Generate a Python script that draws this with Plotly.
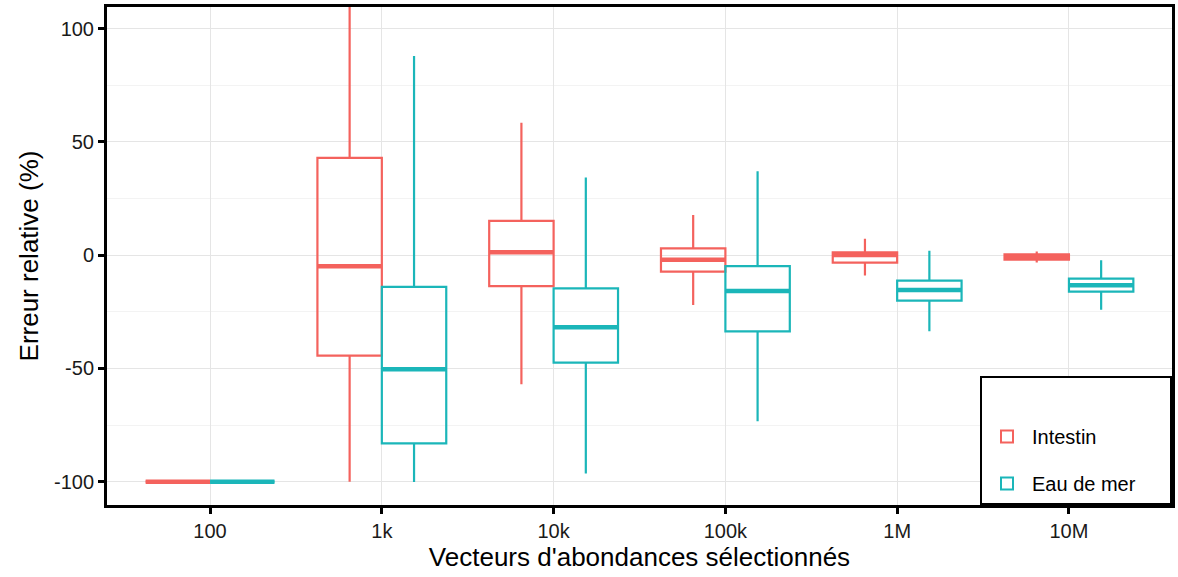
import plotly.graph_objects as go

categories = ["100", "1k", "10k", "100k", "1M", "10M"]

intestin_low = [-100, -100, -57.0, -22.0, -9.0, -3.3]
intestin_q1 = [-100, -44.4, -13.7, -7.3, -3.3, -2.0]
intestin_med = [-100, -4.9, 1.3, -2.1, 0.0, -0.8]
intestin_q3 = [-100, 42.9, 15.1, 3.0, 1.2, 0.3]
intestin_high = [-100, 115.0, 58.4, 17.7, 7.2, 1.6]

mer_low = [-100, -100.1, -96.4, -73.3, -33.6, -24.1]
mer_q1 = [-100, -83.1, -47.5, -33.7, -20.1, -16.1]
mer_med = [-100, -50.4, -31.9, -15.9, -15.4, -13.3]
mer_q3 = [-100, -14.0, -14.7, -4.9, -11.3, -10.4]
mer_high = [-100, 87.9, 34.3, 37.0, 1.9, -2.3]

groups = [
    ("Intestin", "#F4625D", -1, intestin_low, intestin_q1, intestin_med, intestin_q3, intestin_high),
    ("Eau de mer", "#1BB6B9", 1, mer_low, mer_q1, mer_med, mer_q3, mer_high),
]

BOX_W = 0.375
FONT = "Liberation Sans, Arial, sans-serif"

fig = go.Figure()
for name, color, side, lo, q1, med, q3, hi in groups:
    xs = [i + side * BOX_W / 2 for i in range(len(categories))]
    fig.add_trace(go.Box(
        name=name, x=xs, lowerfence=lo, q1=q1, median=med, q3=q3, upperfence=hi,
        width=BOX_W, whiskerwidth=0, boxpoints=False, legendgroup=name,
        line=dict(color=color, width=2.2), fillcolor="rgba(255,255,255,0)",
        hoverinfo="skip",
    ))
    mx, my = [], []
    for x, m in zip(xs, med):
        mx += [x - BOX_W / 2, x + BOX_W / 2, None]
        my += [m, m, None]
    fig.add_trace(go.Scatter(x=mx, y=my, mode="lines", line=dict(color=color, width=4.5),
                             showlegend=False, hoverinfo="skip", legendgroup=name))

fig.update_layout(
    width=1178, height=577,
    margin=dict(l=107, r=3, t=7, b=72),
    paper_bgcolor="white", plot_bgcolor="white",
    font=dict(family=FONT, size=20, color="black"),
    boxmode="overlay",
    showlegend=True,
    legend=dict(
        x=1, y=0, xanchor="right", yanchor="bottom",
        bgcolor="white", bordercolor="black", borderwidth=2,
        font=dict(size=20, family=FONT, color="black"),
        title=dict(text="&nbsp;" * 22, font=dict(size=30)),
        tracegroupgap=18, itemsizing="constant", itemwidth=40,
    ),
)
fig.update_xaxes(
    range=[-0.6, 5.6], tickmode="array", tickvals=list(range(len(categories))),
    ticktext=categories, ticks="outside", ticklen=6, tickwidth=2.5, tickcolor="black",
    showgrid=True, gridcolor="#E5E5E5", gridwidth=1, zeroline=False,
    showline=True, linecolor="black", linewidth=3, mirror=True,
    tickfont=dict(size=20, color="#1a1a1a"),
    title=dict(text="Vecteurs d'abondances sélectionnés", font=dict(size=26), standoff=6),
)
fig.update_yaxes(
    range=[-110.3, 109.5], tickmode="array", tickvals=[-100, -50, 0, 50, 100],
    ticktext=["-100", "-50", "0", "50", "100"],
    ticks="outside", ticklen=6, tickwidth=2.5, tickcolor="black",
    showgrid=True, gridcolor="#E5E5E5", gridwidth=1, zeroline=False,
    minor=dict(tickvals=[-75, -25, 25, 75], showgrid=True, gridcolor="#F3F3F3", gridwidth=1, ticks=""),
    showline=True, linecolor="black", linewidth=3, mirror=True,
    tickfont=dict(size=20, color="#1a1a1a"),
    title=dict(text="Erreur relative (%)", font=dict(size=26), standoff=8),
)

fig.write_html("out.html", config={"displayModeBar": False},
               post_script="document.body.style.margin='0';document.body.style.overflow='hidden';")
